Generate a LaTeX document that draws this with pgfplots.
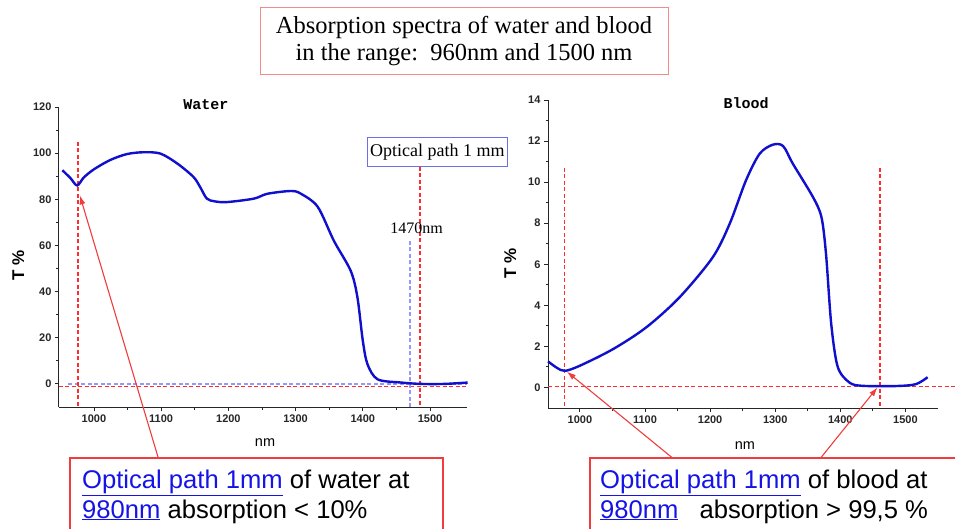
\documentclass[border=0pt]{standalone}
\usepackage{fontspec}
\setmainfont{Liberation Serif}
\setsansfont{Liberation Sans}
\setmonofont{Liberation Mono}
\usepackage{pgfplots}
\pgfplotsset{compat=1.18}
\usetikzlibrary{arrows.meta}
\definecolor{curveblue}{RGB}{15,15,205}
\definecolor{dashred}{RGB}{255,45,45}
\definecolor{dashblue}{RGB}{150,150,255}
\definecolor{boxred}{RGB}{240,60,60}
\definecolor{titlebox}{RGB}{240,140,140}
\definecolor{optbox}{RGB}{110,110,235}
\definecolor{linkblue}{RGB}{20,20,230}
\pgfplotsset{myaxis/.style={scale only axis, axis lines=left, axis line style={-, black!85, line width=1pt},
  tick align=outside, major tick length=4pt, minor tick length=2.5pt, tick style={black!85, line width=0.9pt},
  minor x tick num=1, minor y tick num=1,
  ticklabel style={font=\sffamily\bfseries\fontsize{11}{13}\selectfont, text=black!85},
  /pgf/number format/assume math mode=true, /pgf/number format/1000 sep={},
  xtick={1000,1100,...,1500}, clip=false,
  xlabel style={font=\sffamily\fontsize{14.5}{16}\selectfont, anchor=center},
  ylabel style={font=\sffamily\bfseries\fontsize{17}{19}\selectfont, anchor=center},
  title style={font=\ttfamily\bfseries\fontsize{15}{17}\selectfont, anchor=center, yshift=-6pt},
  xlabel=nm, ylabel={T \%}}}
\tikzset{rdash/.style={dashred, line width=1.4pt, dash pattern=on 4pt off 2.5pt},
  bdash/.style={dashblue, line width=1.3pt, dash pattern=on 4pt off 2.5pt},
  redarrow/.style={boxred, line width=1.1pt, -{Latex[length=9pt,width=6pt]}}}
\pgfplotstableread{
nm T
953 92.6
965 89.2
975 86
985 89.5
1000 93
1024 97
1049 99.6
1074 100.4
1099 99.8
1124 95.5
1148 89.7
1158 85.3
1168 80.3
1180 79.1
1198 78.8
1238 80.3
1258 82.4
1293 83.6
1308 82.4
1333 76.7
1357 62
1382 49
1392 37.5
1400 18.7
1407 8.5
1422 2
1457 0.6
1487 0
1521 0
1556 0.6
}\water
\pgfplotstableread{
nm T
951 1.27
965 0.95
977 0.81
1000 1.06
1051 1.87
1102 2.93
1153 4.39
1204 6.34
1230 7.97
1255 10.08
1276 11.38
1296 11.82
1312 11.76
1327 10.9
1358 9.27
1371 8.29
1378 6.5
1386 3.09
1396 1.0
1414 0.24
1434 0.08
1486 0.07
1516 0.16
1534 0.5
}\blood
\begin{document}
\begin{tikzpicture}
\useasboundingbox (0,0) rectangle (955pt,-529pt);
% title box
\draw[titlebox, line width=1pt] (260pt,-8pt) rectangle (668pt,-75pt);
\node[font=\fontsize{24.5}{27}\selectfont, align=center] at (464pt,-41pt) {Absorption spectra of water and blood\\in the range:\ \ 960nm and 1500 nm};
% water
\begin{axis}[myaxis, at={(59pt,-407pt)}, anchor=south west, width=408pt, height=300pt,
  xmin=948, xmax=1555, ymin=-10, ymax=120, ytick={0,20,...,120},
  title=Water, title style={at={(axis description cs:0.36,1.007)}},
  xlabel style={at={(axis description cs:0.505,-0.12)}},
  ylabel style={at={(axis description cs:-0.1,0.473)}}]
\addplot[bdash] coordinates {(962,0) (1555,0)};
\addplot[rdash] coordinates {(948,-1) (1555,-1)};
\addplot[rdash] coordinates {(976,105) (976,-10)};
\addplot[rdash] coordinates {(1485,97) (1485,-10)};
\addplot[bdash] coordinates {(1470,62) (1470,-10)};
\addplot[curveblue, line width=2.4pt, smooth, tension=0.5] table[x=nm,y=T] {\water};
\coordinate (wtip) at (axis cs:979,81.7);
\node[draw=optbox, line width=1pt, fill=white, font=\fontsize{18}{20}\selectfont, minimum height=28pt, inner xsep=3pt] at (axis cs:1511,100.5) {Optical path 1 mm};
\node[font=\fontsize{16}{18}\selectfont] at (axis cs:1480,67.5) {1470nm};
\end{axis}
% blood
\begin{axis}[myaxis, at={(548pt,-408pt)}, anchor=south west, width=390pt, height=308pt,
  xmin=951, xmax=1550, ymin=-1, ymax=14, ytick={0,2,...,14},
  title=Blood, title style={at={(axis description cs:0.508,0.99)}},
  xlabel style={at={(axis description cs:0.505,-0.123)}},
  ylabel style={at={(axis description cs:-0.097,0.47)}}]
\addplot[rdash] coordinates {(951,0.05) (1577,0.05)};
\addplot[rdash] coordinates {(976,10.7) (976,-1)};
\addplot[rdash] coordinates {(1461,10.7) (1461,-1)};
\addplot[curveblue, line width=2.4pt, smooth, tension=0.5] table[x=nm,y=T] {\blood};
\coordinate (btip1) at (axis cs:980,0.77);
\coordinate (btip2) at (axis cs:1457,0.0);
\end{axis}
% arrows
\draw[redarrow] (158pt,-457pt) -- (wtip);
\draw[redarrow] (675pt,-460pt) -- (btip1);
\draw[redarrow] (819pt,-460pt) -- (btip2);
% bottom boxes
\draw[boxred, line width=1.2pt, fill=white] (70pt,-458pt) rectangle (443pt,-540pt);
\draw[boxred, line width=1.2pt, fill=white] (590pt,-458pt) rectangle (965pt,-540pt);
\node[anchor=base west, inner sep=0pt, font=\sffamily\fontsize{25.6}{30}\selectfont] at (82pt,-488pt) {\textcolor{linkblue}{\underline{Optical path 1mm}} of water at};
\node[anchor=base west, inner sep=0pt, font=\sffamily\fontsize{25.6}{30}\selectfont] at (82pt,-518pt) {\textcolor{linkblue}{\underline{980nm}} absorption < 10\%};
\node[anchor=base west, inner sep=0pt, font=\sffamily\fontsize{25.6}{30}\selectfont] at (600pt,-488pt) {\textcolor{linkblue}{\underline{Optical path 1mm}} of blood at};
\node[anchor=base west, inner sep=0pt, font=\sffamily\fontsize{25.6}{30}\selectfont] at (600pt,-518pt) {\textcolor{linkblue}{\underline{980nm}}\hspace{14pt} absorption > 99,5 \%};
\end{tikzpicture}
\end{document}
